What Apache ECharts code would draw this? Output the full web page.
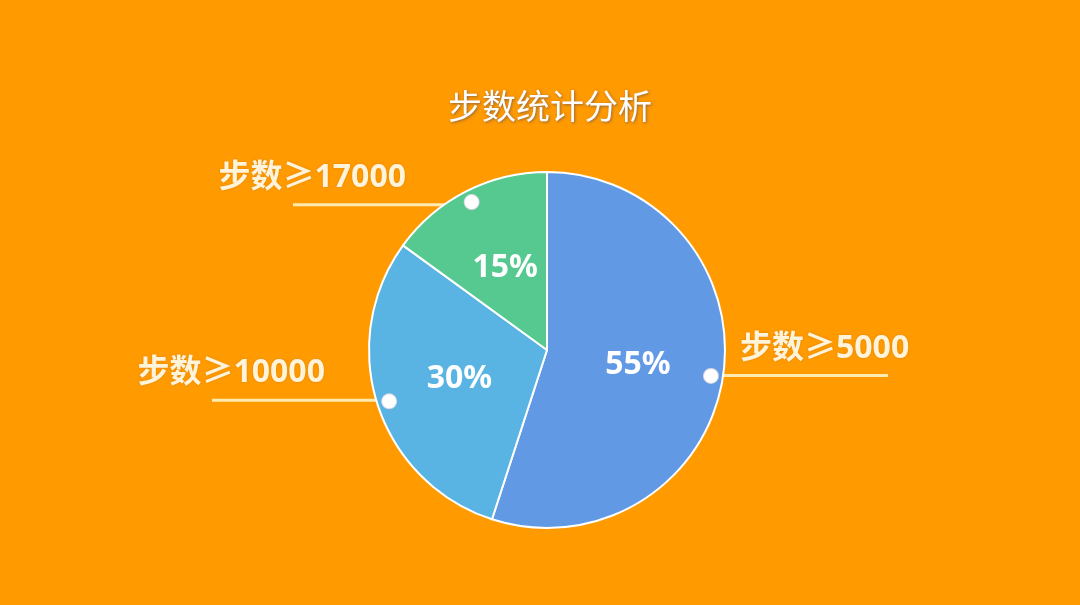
<!DOCTYPE html>
<html>
    <head>
        <meta charset="utf-8">
        <title>步数统计分析</title>
        <script src="https://cdn.jsdelivr.net/npm/echarts@6/dist/echarts.min.js"></script>
        <style>
            html, body { margin: 0; padding: 0; background: #ff9a00; }
        </style>
    </head>
    <body>
        <div id="steps" style="width: 1080px;height: 605px;"></div>
        <script>
            var myChart = echarts.init(document.getElementById("steps"));

            var categories = ['步数≥5000', '步数≥10000', '步数≥17000'];
            var percents = [55, 30, 15];
            var colors = ['#6199e5', '#5ab4e3', '#55c98f'];

            var pieCenter = [547, 350];

            // main pie
            var mainData = [];
            for (var i = 0; i < categories.length; i++) {
                mainData.push({
                    name: categories[i],
                    value: percents[i],
                    itemStyle: { color: colors[i] }
                });
            }

            // outer labels: text sits above the line, pulled back over it
            var labelData = [];
            for (var j = 0; j < categories.length; j++) {
                labelData.push({
                    name: categories[j],
                    value: percents[j],
                    label: {
                        padding: j == 0 ? [0, 0, 0, -153] : [0, -118, 0, 0]
                    }
                });
            }

            var option = {
                backgroundColor: '#ff9a00',
                title: {
                    text: '步数统计分析',
                    left: 443,
                    top: 84,
                    textStyle: {
                        color: '#ffffff',
                        fontSize: 34,
                        fontWeight: 'normal',
                        fontFamily: 'Noto Sans CJK SC',
                        textShadowColor: 'rgba(60, 60, 110, 0.55)',
                        textShadowBlur: 3,
                        textShadowOffsetX: 1,
                        textShadowOffsetY: 1
                    }
                },
                series: [{
                    name: 'main',
                    type: 'pie',
                    center: pieCenter,
                    radius: [0, 178],
                    startAngle: 90,
                    silent: true,
                    animation: false,
                    itemStyle: {
                        borderColor: '#ffffff',
                        borderWidth: 2
                    },
                    label: {
                        show: true,
                        position: 'inside',
                        formatter: '{c}%',
                        color: '#ffffff',
                        fontSize: 32,
                        fontWeight: 'bold',
                        fontFamily: 'Noto Sans'
                    },
                    labelLine: { show: false },
                    data: mainData
                }, {
                    name: 'lines',
                    type: 'pie',
                    center: pieCenter,
                    radius: [0, 163],
                    startAngle: 90,
                    silent: true,
                    animation: false,
                    itemStyle: { color: 'transparent', borderWidth: 0 },
                    label: {
                        show: true,
                        position: 'outside',
                        alignTo: 'none',
                        distanceToLabelLine: 5,
                        formatter: '{t|{b}}\n{s| }',
                        rich: {
                            t: {
                                color: '#fff3da',
                                fontSize: 32,
                                fontWeight: 'bold',
                                fontFamily: 'Noto Sans, Noto Sans CJK SC',
                                lineHeight: 40,
                                textShadowColor: 'rgba(150, 80, 0, 0.35)',
                                textShadowBlur: 2
                            },
                            s: {
                                fontSize: 10,
                                lineHeight: 54
                            }
                        }
                    },
                    labelLine: {
                        show: true,
                        length: 0,
                        length2: 180,
                        lineStyle: { color: '#ffeab0', width: 3 }
                    },
                    data: labelData
                }, {
                    name: 'dots',
                    type: 'pie',
                    center: pieCenter,
                    radius: [156, 170],
                    startAngle: 90,
                    silent: true,
                    animation: false,
                    itemStyle: { color: 'transparent', borderWidth: 0 },
                    label: {
                        show: true,
                        position: 'inside',
                        formatter: '{dot| }',
                        rich: {
                            dot: {
                                width: 14,
                                height: 14,
                                borderRadius: 7,
                                backgroundColor: '#ffffff',
                                borderColor: '#d8d8e0',
                                borderWidth: 1
                            }
                        }
                    },
                    labelLine: { show: false },
                    data: percents
                }]
            };

            myChart.setOption(option);
        </script>
    </body>
</html>
